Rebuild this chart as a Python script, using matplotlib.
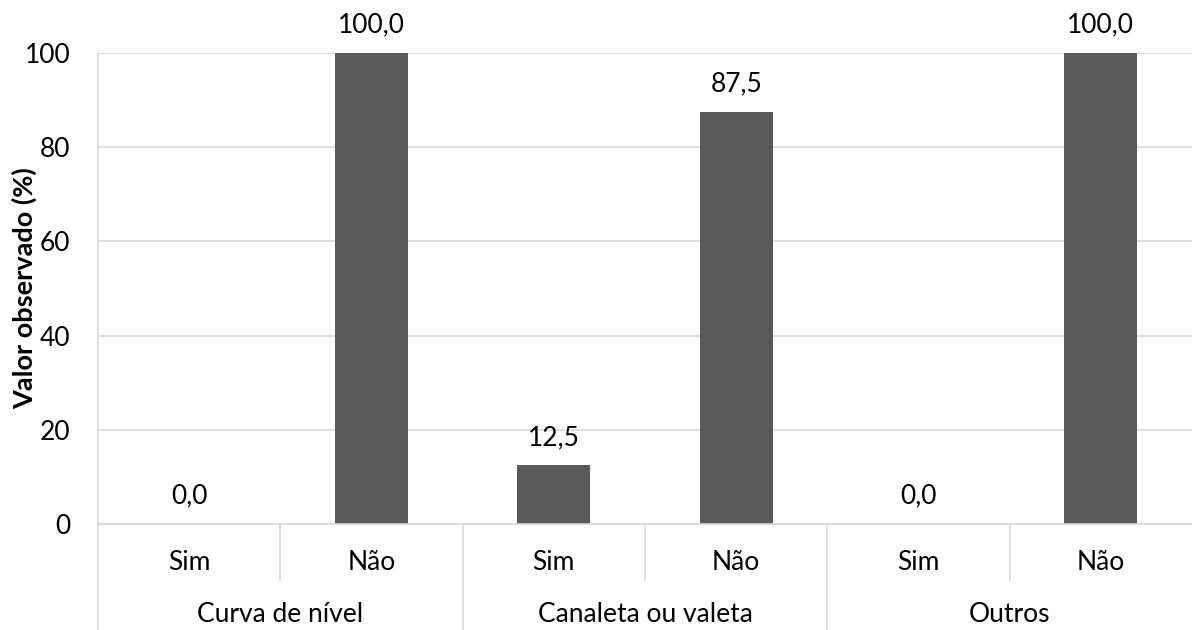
import matplotlib
matplotlib.use("Agg")
import matplotlib.pyplot as plt
import matplotlib.transforms as mtransforms

# donnees du graphique
groupes = ["Curva de nível", "Canaleta ou valeta", "Outros"]
sous_cat = ["Sim", "Não", "Sim", "Não", "Sim", "Não"]
valeurs = [0.0, 100.0, 12.5, 87.5, 0.0, 100.0]
yticks = [0, 20, 40, 60, 80, 100]

plt.rcParams['font.family'] = ['Lato', 'DejaVu Sans']
fs = 19

fig = plt.figure(figsize=(11.92, 6.30), dpi=100)
W, H = 1192, 630
x0, x1, ytop, ybot = 98, 1192, 53, 524
ax = fig.add_axes([x0 / W, (H - ybot) / H, (x1 - x0) / W, (ybot - ytop) / H])

gris = "#d9d9d9"
n = len(valeurs)
pos = list(range(n))
ax.bar(pos, valeurs, width=0.4, color="#595959", zorder=3)

# etiquettes de valeur
for x, v in zip(pos, valeurs):
    ax.annotate(f"{v:.1f}".replace(".", ","), (x, v), xytext=(0, 11),
                textcoords="offset points", ha="center", va="bottom",
                fontsize=fs, color="#000000")

ax.set_xlim(-0.5, n - 0.5)
ax.set_ylim(0, 100)
ax.set_yticks(yticks)
ax.set_yticklabels([str(t) for t in yticks], fontsize=fs)
ax.tick_params(axis="y", length=0, pad=20)
ax.set_xticks([])
ax.grid(axis="y", color=gris, linewidth=1.2, zorder=0)
for s in ["top", "right", "bottom"]:
    ax.spines[s].set_visible(False)
ax.spines["left"].set_color(gris)
ax.spines["left"].set_linewidth(1.2)
ax.set_ylabel("Valor observado (%)", fontsize=19.5, fontweight="bold")
ax.yaxis.set_label_coords(-(98 - 37) / (x1 - x0), 0.5)

# axe de categories a deux niveaux
trans = mtransforms.blended_transform_factory(ax.transData, ax.transAxes)
h_ax = ybot - ytop
y_sous = -(562 - ybot) / h_ax
y_grp = -(614 - ybot) / h_ax
y_court = -(580 - ybot) / h_ax
y_long = -(H - ybot) / h_ax

ax.plot([-0.5, n - 0.5], [0, 0], transform=trans, color=gris, lw=1.2, clip_on=False, zorder=4)
for i, lab in enumerate(sous_cat):
    ax.text(i, y_sous, lab, transform=trans, ha="center", va="center", fontsize=fs)
    if i % 2 == 1:
        ax.plot([i - 0.5, i - 0.5], [0, y_court], transform=trans, color=gris, lw=1.2, clip_on=False)
for g, lab in enumerate(groupes):
    ax.text(2 * g + 0.5, y_grp, lab, transform=trans, ha="center", va="center", fontsize=fs)
    ax.plot([2 * g - 0.5, 2 * g - 0.5], [0, y_long], transform=trans, color=gris, lw=1.2, clip_on=False)

fig.savefig("out.png", dpi=100)
